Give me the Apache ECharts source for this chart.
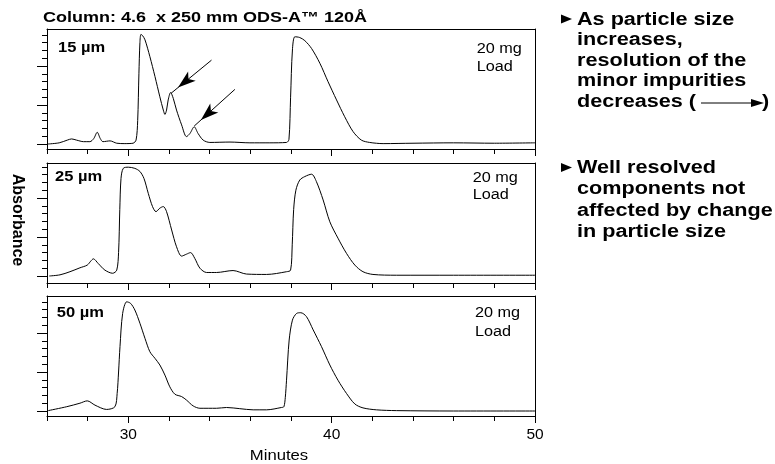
<!DOCTYPE html>
<html><head><meta charset="utf-8">
<script src="https://cdn.jsdelivr.net/npm/echarts@6/dist/echarts.min.js"></script>
<style>html,body{margin:0;padding:0;background:#fff}#c{width:775px;height:464px}</style>
</head><body><div id="c"></div>
<script>
// ---------- data ----------
const xMin = 26, xMax = 50, xStep = 2;
const xMajorTicks = [30, 40, 50];
const yMajorTicks = [0, 1, 2];
const yMinorTicks = [0.2, 0.4, 0.6, 0.8, 1.2, 1.4, 1.6, 1.8, 2.2, 2.4, 2.6, 2.8];
const panelNames = ['15 µm', '25 µm', '50 µm'];
const loadLines = ['20 mg', 'Load'];

const t15 = [26.05,26.6,27.0,27.21,27.45,27.8,28.11,28.3,28.47,28.62,28.75,29.1,29.43,29.83,30.23,30.38,30.46,30.52,30.57,30.62,30.7,30.82,31.06,31.31,31.55,31.72,31.8,31.88,31.96,32.08,32.21,32.37,32.62,32.86,33.03,33.24,33.43,33.68,34.01,35.0,35.98,36.96,37.78,37.9,37.98,38.07,38.19,38.43,38.68,39.01,39.42,39.82,40.24,40.64,41.05,41.46,41.87,42.53,44,46,48,50];
const a15 = [0.0,0.03,0.10,0.13,0.10,0.06,0.06,0.14,0.30,0.14,0.06,0.08,0.02,0.01,0.02,0.10,0.6,1.8,2.6,2.81,2.78,2.67,2.24,1.73,1.21,0.87,0.76,0.87,1.13,1.32,1.17,0.87,0.49,0.19,0.27,0.44,0.27,0.10,0.04,0.05,0.03,0.03,0.04,0.12,1.2,2.41,2.75,2.73,2.65,2.45,2.07,1.60,1.13,0.70,0.32,0.10,0.04,0.01,0.02,0.03,0.02,0.03];

const t25 = [26.11,26.64,27.13,27.62,27.98,28.15,28.28,28.52,28.85,29.23,29.43,29.52,29.58,29.64,29.75,30.0,30.32,30.57,30.77,30.98,31.19,31.36,31.55,31.72,31.88,32.13,32.37,32.62,32.86,33.06,33.27,33.52,33.85,34.34,35.15,35.81,36.8,37.78,37.98,38.06,38.13,38.24,38.43,38.68,39.01,39.25,39.58,39.91,40.31,40.73,41.14,41.54,42.03,43.18,46,50];
const a25 = [0,0.03,0.11,0.21,0.28,0.38,0.44,0.32,0.15,0.07,0.15,0.6,1.7,2.5,2.76,2.79,2.76,2.68,2.50,2.12,1.78,1.65,1.74,1.78,1.65,1.18,0.75,0.51,0.56,0.60,0.45,0.20,0.09,0.09,0.14,0.05,0.04,0.11,0.15,0.8,1.7,2.2,2.46,2.55,2.61,2.42,1.95,1.39,0.97,0.58,0.28,0.11,0.04,0.02,0.02,0.02];

const t50 = [26.06,26.97,27.62,27.98,28.36,28.93,29.34,29.45,29.52,29.59,29.72,29.92,30.11,30.32,30.57,30.82,31.06,31.31,31.55,31.8,32.04,32.29,32.62,32.86,33.19,33.52,34.34,34.83,35.48,36.14,36.8,37.53,37.65,37.72,37.78,37.91,38.07,38.27,38.48,38.76,39.09,39.5,39.91,40.31,40.73,41.14,41.54,42.2,43.18,46,50];
const a50 = [0.01,0.11,0.20,0.26,0.15,0.04,0.11,0.45,1.0,1.65,2.5,2.80,2.76,2.59,2.25,1.86,1.52,1.35,1.18,0.92,0.62,0.43,0.37,0.28,0.13,0.07,0.07,0.09,0.06,0.03,0.03,0.09,0.11,0.35,0.79,1.82,2.33,2.50,2.52,2.42,2.08,1.65,1.18,0.79,0.45,0.18,0.08,0.03,0.01,0.0,0.0];

// annotation arrows in 15 µm panel: [fromT, fromA, tipT, tipA]
const arrows15 = [[34.09, 2.15, 32.1, 1.30], [35.24, 1.40, 33.24, 0.46]];

const titleText = 'Column: 4.6  x 250 mm ODS-A™ 120Å';
const yTitle = 'Absorbance';
const xTitle = 'Minutes';
const note1 = ['As particle size', 'increases,', 'resolution of the', 'minor impurities', 'decreases ('];
const note2 = ['Well resolved', 'components not', 'affected by change', 'in particle size'];

// ---------- layout ----------
const FONT = '"Liberation Sans", Arial, Helvetica, sans-serif';
const unitPx = 39;
const panels = [
  { top: 29, height: 120, base: 5, t: t15, a: a15, name: [58, 48], load: [476.7, 49.3, 66.7] },
  { top: 163, height: 120, base: 7, t: t25, a: a25, name: [55, 176.7], load: [472.7, 178.3, 195.5] },
  { top: 296, height: 120, base: 5, t: t50, a: a50, name: [56.7, 313.3], load: [475, 313.3, 331.7] }
];

const grids = [], xAxes = [], yAxes = [], series = [];
const black = '#000';
panels.forEach((p, i) => {
  grids.push({ left: 47, width: 488, top: p.top, height: p.height, show: false });
  const yMin = -p.base / unitPx, yMax = (p.height - p.base) / unitPx;
  const xBase = { gridIndex: i, type: 'value', min: xMin, max: xMax, interval: xStep, splitLine: { show: false } };
  xAxes.push(Object.assign({}, xBase, {
    position: 'bottom',
    axisLine: { show: true, onZero: false, lineStyle: { color: black, width: 1 } },
    axisTick: { show: true, length: 5, lineStyle: { color: black } },
    axisLabel: { show: i === 2, color: black, fontSize: 15.5, fontFamily: FONT, margin: 11,
      formatter: v => (xMajorTicks.indexOf(v) >= 0 ? String(v) : '') }
  }));
  xAxes.push(Object.assign({}, xBase, {
    position: 'bottom',
    axisLine: { show: false, onZero: false },
    axisTick: { show: true, length: 7, customValues: xMajorTicks, lineStyle: { color: black } },
    axisLabel: { show: false }
  }));
  xAxes.push(Object.assign({}, xBase, {
    position: 'top',
    axisLine: { show: true, onZero: false, lineStyle: { color: black, width: 1 } },
    axisTick: { show: false }, axisLabel: { show: false }
  }));
  const yBase = { gridIndex: i, type: 'value', min: yMin, max: yMax, splitLine: { show: false } };
  yAxes.push(Object.assign({}, yBase, {
    position: 'left',
    axisLine: { show: true, onZero: false, lineStyle: { color: black, width: 1 } },
    axisTick: { show: true, length: 10, customValues: yMajorTicks, lineStyle: { color: black } },
    axisLabel: { show: false }
  }));
  yAxes.push(Object.assign({}, yBase, {
    position: 'left',
    axisLine: { show: false, onZero: false },
    axisTick: { show: true, length: 5, customValues: yMinorTicks, lineStyle: { color: black } },
    axisLabel: { show: false }
  }));
  yAxes.push(Object.assign({}, yBase, {
    position: 'right',
    axisLine: { show: true, onZero: false, lineStyle: { color: black, width: 1 } },
    axisTick: { show: false }, axisLabel: { show: false }
  }));
  const s = {
    type: 'line', xAxisIndex: i * 3, yAxisIndex: i * 3,
    data: p.t.map((t, k) => [t, p.a[k]]),
    showSymbol: false, smooth: 0.3, animation: false,
    lineStyle: { color: black, width: 1 }
  };
  if (i === 0) {
    s.markLine = {
      silent: true, animation: false,
      symbol: ['none', 'arrow'], symbolSize: 12,
      label: { show: false },
      lineStyle: { color: black, width: 1, type: 'solid' },
      itemStyle: { color: black },
      data: arrows15.map(a => [
        { coord: [a[0], a[1]] },
        { coord: [a[2], a[3]], symbolSize: [9, 18], symbolOffset: [0, 9] }
      ])
    };
  }
  series.push(s);
});

function txt(x, y, s, size, weight, sx, align, rot) {
  return {
    type: 'text', x: x, y: y, scaleX: sx || 1, rotation: rot || 0, silent: true,
    style: { text: s, x: 0, y: 0, fontSize: size, fontWeight: weight, fontFamily: FONT,
      fill: black, align: align || 'left', verticalAlign: 'middle' }
  };
}

const graphics = [];
graphics.push(txt(43, 18, titleText, 15, 'bold', 1.2));
graphics.push(txt(17.5, 220, yTitle, 16, 'bold', 1, 'center', -Math.PI / 2));
graphics.push(txt(279, 456, xTitle, 14.5, 'normal', 1.15, 'center'));
panels.forEach((p, i) => {
  graphics.push(txt(p.name[0], p.name[1], panelNames[i], 14, 'bold', 1.18));
  graphics.push(txt(p.load[0], p.load[1], loadLines[0], 14, 'normal', 1.16));
  graphics.push(txt(p.load[0], p.load[2], loadLines[1], 14, 'normal', 1.16));
});
const noteX = 577, noteSize = 17.5, noteSX = 1.235;
const n1Top = 20, n1Step = 20.5, n2Top = 168, n2Step = 21.5;
note1.forEach((l, k) => graphics.push(txt(noteX, n1Top + k * n1Step, l, noteSize, 'bold', noteSX)));
note2.forEach((l, k) => graphics.push(txt(noteX, n2Top + k * n2Step, l, noteSize, 'bold', noteSX)));
function bullet(cy) {
  return { type: 'polygon', silent: true, shape: { points: [[561, cy - 4.5], [572, cy], [561, cy + 4.5]] }, style: { fill: black } };
}
graphics.push(bullet(n1Top - 1));
graphics.push(bullet(n2Top - 0.5));
const ay = n1Top + 4 * n1Step + 1;
graphics.push({ type: 'line', silent: true, shape: { x1: 701, y1: ay, x2: 754, y2: ay }, style: { stroke: black, lineWidth: 1 } });
graphics.push({ type: 'polygon', silent: true, shape: { points: [[751, ay - 4], [764, ay], [751, ay + 4]] }, style: { fill: black } });
graphics.push(txt(762, n1Top + 4 * n1Step, ')', noteSize, 'bold', noteSX));

const chart = echarts.init(document.getElementById('c'), null, { renderer: 'canvas' });
chart.setOption({
  animation: false,
  backgroundColor: '#fff',
  grid: grids, xAxis: xAxes, yAxis: yAxes, series: series,
  graphic: { elements: graphics }
});
</script>
</body></html>
